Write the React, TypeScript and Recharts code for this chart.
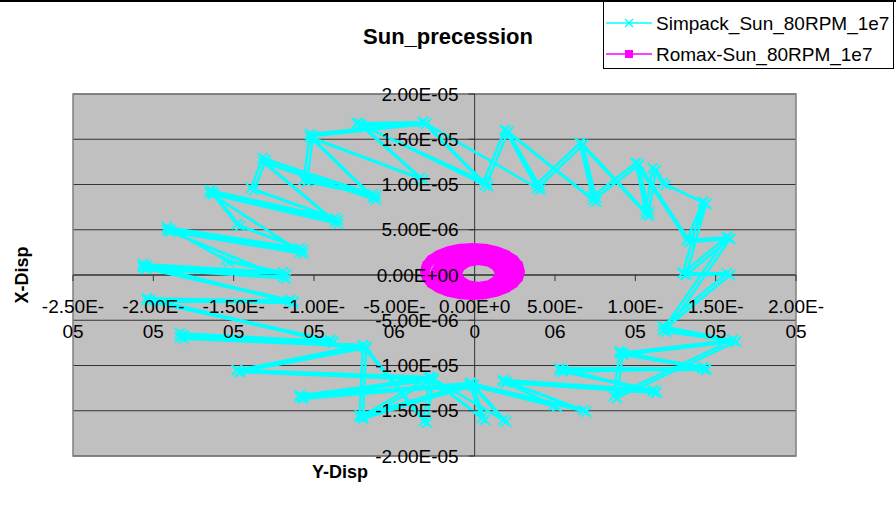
import React from "react";
import {
  ScatterChart,
  Scatter,
  XAxis,
  YAxis,
  CartesianGrid,
  ReferenceLine,
  ReferenceArea,
} from "recharts";

// ---------- axis definitions ----------
const X_MIN = -2.5e-5;
const X_MAX = 2.0e-5;
const Y_MIN = -2.0e-5;
const Y_MAX = 2.0e-5;
const X_TICKS = [-2.5e-5, -2.0e-5, -1.5e-5, -1.0e-5, -5.0e-6, 0, 5.0e-6, 1.0e-5, 1.5e-5, 2.0e-5];
const X_TICK_LABELS = [
  ["-2.50E-", "05"],
  ["-2.00E-", "05"],
  ["-1.50E-", "05"],
  ["-1.00E-", "05"],
  ["-5.00E-", "06"],
  ["0.00E+0", "0"],
  ["5.00E-", "06"],
  ["1.00E-", "05"],
  ["1.50E-", "05"],
  ["2.00E-", "05"],
];
const Y_TICKS = [-2.0e-5, -1.5e-5, -1.0e-5, -5.0e-6, 0, 5.0e-6, 1.0e-5, 1.5e-5, 2.0e-5];
const Y_TICK_LABELS = [
  "-2.00E-05",
  "-1.50E-05",
  "-1.00E-05",
  "-5.00E-06",
  "0.00E+00",
  "5.00E-06",
  "1.00E-05",
  "1.50E-05",
  "2.00E-05",
];

const TITLE = "Sun_precession";
const X_TITLE = "Y-Disp";
const Y_TITLE = "X-Disp";
const SIMPACK_NAME = "Simpack_Sun_80RPM_1e7";
const ROMAX_NAME = "Romax-Sun_80RPM_1e7";

// ---------- series ----------
const SIMPACK_PASS_A = [
  { x: -20.64e-6, y: 0.88e-6 },
  { x: -11.93e-6, y: -0.22e-6 },
  { x: -19.15e-6, y: 4.97e-6 },
  { x: -10.87e-6, y: 2.54e-6 },
  { x: -16.47e-6, y: 9.06e-6 },
  { x: -8.69e-6, y: 5.86e-6 },
  { x: -13.17e-6, y: 12.49e-6 },
  { x: -6.33e-6, y: 8.51e-6 },
  { x: -10.25e-6, y: 15.25e-6 },
  { x: -3.4e-6, y: 10.72e-6 },
  { x: -7.26e-6, y: 16.8e-6 },
  { x: 0.64e-6, y: 9.95e-6 },
  { x: -3.22e-6, y: 16.91e-6 },
  { x: 3.88e-6, y: 9.61e-6 },
  { x: 1.89e-6, y: 16.02e-6 },
  { x: 7.36e-6, y: 8.29e-6 },
  { x: 6.55e-6, y: 14.59e-6 },
  { x: 10.66e-6, y: 6.74e-6 },
  { x: 10.04e-6, y: 12.38e-6 },
  { x: 13.21e-6, y: 3.87e-6 },
  { x: 14.21e-6, y: 8.07e-6 },
  { x: 12.96e-6, y: 0.22e-6 },
  { x: 15.7e-6, y: 4.2e-6 },
  { x: 11.72e-6, y: -6.08e-6 },
  { x: 16.07e-6, y: -7.18e-6 },
  { x: 9.04e-6, y: -8.62e-6 },
  { x: 14.21e-6, y: -10.17e-6 },
  { x: 5.31e-6, y: -10.5e-6 },
  { x: 11.1e-6, y: -12.71e-6 },
  { x: 1.76e-6, y: -11.6e-6 },
  { x: 6.74e-6, y: -14.92e-6 },
  { x: -0.29e-6, y: -11.93e-6 },
  { x: 1.76e-6, y: -16.02e-6 },
  { x: -2.78e-6, y: -11.27e-6 },
  { x: -7.14e-6, y: -15.69e-6 },
  { x: -0.29e-6, y: -11.93e-6 },
  { x: -10.87e-6, y: -13.48e-6 },
  { x: -2.78e-6, y: -11.27e-6 },
  { x: -14.79e-6, y: -10.5e-6 },
  { x: -6.95e-6, y: -7.74e-6 },
  { x: -18.34e-6, y: -6.85e-6 },
  { x: -9.0e-6, y: -7.18e-6 },
  { x: -20.39e-6, y: -2.76e-6 },
  { x: -11.49e-6, y: -2.76e-6 },
  { x: -20.64e-6, y: 0.88e-6 },
];

const SIMPACK_PASS_B = [
  { x: -20.45e-6, y: 0.99e-6 },
  { x: -11.74e-6, y: 0.11e-6 },
  { x: -15.29e-6, y: 1.44e-6 },
  { x: -18.96e-6, y: 5.08e-6 },
  { x: -10.68e-6, y: 2.76e-6 },
  { x: -14.61e-6, y: 5.41e-6 },
  { x: -16.29e-6, y: 9.17e-6 },
  { x: -8.51e-6, y: 6.08e-6 },
  { x: -13.73e-6, y: 9.39e-6 },
  { x: -12.99e-6, y: 12.71e-6 },
  { x: -6.14e-6, y: 8.73e-6 },
  { x: -10.44e-6, y: 10.28e-6 },
  { x: -10.06e-6, y: 15.36e-6 },
  { x: -3.03e-6, y: 16.69e-6 },
  { x: -7.14e-6, y: 16.58e-6 },
  { x: 0.77e-6, y: 10.17e-6 },
  { x: 2.07e-6, y: 15.8e-6 },
  { x: 4.06e-6, y: 9.83e-6 },
  { x: 6.74e-6, y: 14.37e-6 },
  { x: 7.55e-6, y: 8.51e-6 },
  { x: 10.22e-6, y: 12.16e-6 },
  { x: 10.85e-6, y: 6.96e-6 },
  { x: 11.28e-6, y: 11.6e-6 },
  { x: 11.9e-6, y: 9.95e-6 },
  { x: 14.39e-6, y: 7.85e-6 },
  { x: 13.4e-6, y: 3.65e-6 },
  { x: 15.89e-6, y: 3.98e-6 },
  { x: 13.15e-6, y: 0.0 },
  { x: 15.89e-6, y: 0.0 },
  { x: 11.9e-6, y: -5.86e-6 },
  { x: 16.26e-6, y: -7.4e-6 },
  { x: 8.86e-6, y: -13.59e-6 },
  { x: 9.23e-6, y: -8.62e-6 },
  { x: 14.39e-6, y: -10.5e-6 },
  { x: 5.49e-6, y: -10.5e-6 },
  { x: 11.28e-6, y: -13.04e-6 },
  { x: 1.95e-6, y: -11.93e-6 },
  { x: 5.12e-6, y: -14.59e-6 },
  { x: -0.11e-6, y: -12.27e-6 },
  { x: 0.64e-6, y: -16.02e-6 },
  { x: -2.59e-6, y: -11.6e-6 },
  { x: -2.97e-6, y: -16.35e-6 },
  { x: -6.76e-6, y: -8.07e-6 },
  { x: -6.95e-6, y: -15.69e-6 },
  { x: -0.11e-6, y: -12.27e-6 },
  { x: -10.68e-6, y: -13.48e-6 },
  { x: -2.59e-6, y: -11.6e-6 },
  { x: -14.61e-6, y: -10.72e-6 },
  { x: -6.76e-6, y: -8.07e-6 },
  { x: -18.15e-6, y: -6.63e-6 },
  { x: -8.82e-6, y: -7.51e-6 },
  { x: -20.21e-6, y: -2.76e-6 },
  { x: -11.31e-6, y: -3.09e-6 },
  { x: -20.45e-6, y: 0.99e-6 },
];

const SIMPACK_PASS_C = [
  { x: -20.45e-6, y: 0.7e-6 },
  { x: -11.75e-6, y: -0.4e-6 },
  { x: -18.95e-6, y: 4.78e-6 },
  { x: -10.68e-6, y: 2.36e-6 },
  { x: -16.28e-6, y: 8.87e-6 },
  { x: -8.5e-6, y: 5.66e-6 },
  { x: -12.97e-6, y: 12.3e-6 },
  { x: -6.14e-6, y: 8.32e-6 },
  { x: -10.05e-6, y: 15.05e-6 },
  { x: -3.2e-6, y: 10.52e-6 },
  { x: -7.06e-6, y: 16.62e-6 },
  { x: 0.84e-6, y: 9.76e-6 },
  { x: -3.02e-6, y: 16.72e-6 },
  { x: 4.08e-6, y: 9.42e-6 },
  { x: 2.09e-6, y: 15.83e-6 },
  { x: 7.56e-6, y: 8.1e-6 },
  { x: 6.75e-6, y: 14.4e-6 },
  { x: 10.86e-6, y: 6.55e-6 },
  { x: 10.24e-6, y: 12.19e-6 },
  { x: 13.41e-6, y: 3.68e-6 },
  { x: 14.41e-6, y: 7.88e-6 },
  { x: 13.16e-6, y: 0.03e-6 },
  { x: 15.9e-6, y: 4.01e-6 },
  { x: 11.92e-6, y: -6.27e-6 },
  { x: 16.27e-6, y: -7.37e-6 },
  { x: 9.24e-6, y: -8.81e-6 },
  { x: 14.41e-6, y: -10.36e-6 },
  { x: 5.51e-6, y: -10.69e-6 },
  { x: 11.3e-6, y: -12.9e-6 },
  { x: 1.96e-6, y: -11.79e-6 },
  { x: 6.94e-6, y: -15.11e-6 },
  { x: -0.09e-6, y: -12.12e-6 },
  { x: 1.96e-6, y: -16.21e-6 },
  { x: -2.58e-6, y: -11.46e-6 },
  { x: -6.94e-6, y: -15.88e-6 },
  { x: -0.09e-6, y: -12.12e-6 },
  { x: -10.67e-6, y: -13.67e-6 },
  { x: -2.58e-6, y: -11.46e-6 },
  { x: -14.59e-6, y: -10.69e-6 },
  { x: -6.75e-6, y: -7.93e-6 },
  { x: -18.14e-6, y: -7.04e-6 },
  { x: -8.8e-6, y: -7.37e-6 },
  { x: -20.19e-6, y: -2.95e-6 },
  { x: -11.29e-6, y: -2.95e-6 },
  { x: -20.44e-6, y: 0.69e-6 },
];

const SIMPACK_PASS_D = [
  { x: -20.65e-6, y: 1.19e-6 },
  { x: -11.94e-6, y: 0.31e-6 },
  { x: -15.49e-6, y: 1.64e-6 },
  { x: -19.16e-6, y: 5.28e-6 },
  { x: -10.88e-6, y: 2.96e-6 },
  { x: -14.81e-6, y: 5.61e-6 },
  { x: -16.49e-6, y: 9.37e-6 },
  { x: -8.71e-6, y: 6.28e-6 },
  { x: -13.93e-6, y: 9.59e-6 },
  { x: -13.19e-6, y: 12.91e-6 },
  { x: -6.34e-6, y: 8.93e-6 },
  { x: -10.64e-6, y: 10.48e-6 },
  { x: -10.26e-6, y: 15.56e-6 },
  { x: -3.23e-6, y: 16.89e-6 },
  { x: -7.34e-6, y: 16.78e-6 },
  { x: 0.57e-6, y: 10.37e-6 },
  { x: 1.87e-6, y: 16.0e-6 },
  { x: 3.86e-6, y: 10.03e-6 },
  { x: 6.54e-6, y: 14.57e-6 },
  { x: 7.35e-6, y: 8.71e-6 },
  { x: 10.02e-6, y: 12.36e-6 },
  { x: 10.65e-6, y: 7.16e-6 },
  { x: 11.08e-6, y: 11.8e-6 },
  { x: 11.7e-6, y: 10.15e-6 },
  { x: 14.19e-6, y: 8.05e-6 },
  { x: 13.2e-6, y: 3.85e-6 },
  { x: 15.69e-6, y: 4.18e-6 },
  { x: 12.95e-6, y: 0.2e-6 },
  { x: 15.69e-6, y: 0.2e-6 },
  { x: 11.7e-6, y: -5.66e-6 },
  { x: 16.06e-6, y: -7.2e-6 },
  { x: 8.66e-6, y: -13.39e-6 },
  { x: 9.03e-6, y: -8.42e-6 },
  { x: 14.19e-6, y: -10.3e-6 },
  { x: 5.29e-6, y: -10.3e-6 },
  { x: 11.08e-6, y: -12.84e-6 },
  { x: 1.75e-6, y: -11.73e-6 },
  { x: 4.92e-6, y: -14.39e-6 },
  { x: -0.31e-6, y: -12.07e-6 },
  { x: 0.44e-6, y: -15.82e-6 },
  { x: -2.79e-6, y: -11.4e-6 },
  { x: -3.17e-6, y: -16.15e-6 },
  { x: -6.96e-6, y: -7.87e-6 },
  { x: -7.15e-6, y: -15.49e-6 },
  { x: -0.31e-6, y: -12.07e-6 },
  { x: -10.88e-6, y: -13.28e-6 },
  { x: -2.79e-6, y: -11.4e-6 },
  { x: -14.81e-6, y: -10.52e-6 },
  { x: -6.96e-6, y: -7.87e-6 },
  { x: -18.35e-6, y: -6.43e-6 },
  { x: -9.02e-6, y: -7.31e-6 },
  { x: -20.41e-6, y: -2.56e-6 },
  { x: -11.51e-6, y: -2.89e-6 },
  { x: -20.65e-6, y: 1.19e-6 },
];

const ROMAX = [
  // outer loop
  { x: 2.82e-6, y: 0.39e-6 },
  { x: 2.72e-6, y: 1.06e-6 },
  { x: 2.42e-6, y: 1.69e-6 },
  { x: 1.95e-6, y: 2.22e-6 },
  { x: 1.34e-6, y: 2.64e-6 },
  { x: 0.63e-6, y: 2.9e-6 },
  { x: -0.14e-6, y: 2.98e-6 },
  { x: -0.9e-6, y: 2.9e-6 },
  { x: -1.62e-6, y: 2.64e-6 },
  { x: -2.23e-6, y: 2.22e-6 },
  { x: -2.7e-6, y: 1.69e-6 },
  { x: -2.99e-6, y: 1.06e-6 },
  { x: -3.09e-6, y: 0.39e-6 },
  { x: -2.99e-6, y: -0.29e-6 },
  { x: -2.7e-6, y: -0.91e-6 },
  { x: -2.23e-6, y: -1.45e-6 },
  { x: -1.62e-6, y: -1.86e-6 },
  { x: -0.9e-6, y: -2.12e-6 },
  { x: -0.14e-6, y: -2.21e-6 },
  { x: 0.63e-6, y: -2.12e-6 },
  { x: 1.34e-6, y: -1.86e-6 },
  { x: 1.95e-6, y: -1.45e-6 },
  { x: 2.42e-6, y: -0.91e-6 },
  { x: 2.72e-6, y: -0.29e-6 },
  { x: 2.82e-6, y: 0.39e-6 },
  // second loop
  { x: 2.4e-6, y: 0.31e-6 },
  { x: 2.08e-6, y: 1.43e-6 },
  { x: 1.2e-6, y: 2.24e-6 },
  { x: -0.01e-6, y: 2.54e-6 },
  { x: -1.22e-6, y: 2.24e-6 },
  { x: -2.1e-6, y: 1.43e-6 },
  { x: -2.43e-6, y: 0.31e-6 },
  { x: -2.1e-6, y: -0.81e-6 },
  { x: -1.22e-6, y: -1.62e-6 },
  { x: -0.01e-6, y: -1.92e-6 },
  { x: 1.2e-6, y: -1.62e-6 },
  { x: 2.08e-6, y: -0.81e-6 },
  { x: 2.4e-6, y: 0.31e-6 },
  // third loop
  { x: 1.99e-6, y: 0.24e-6 },
  { x: 1.74e-6, y: 1.17e-6 },
  { x: 1.05e-6, y: 1.85e-6 },
  { x: 0.11e-6, y: 2.1e-6 },
  { x: -0.83e-6, y: 1.85e-6 },
  { x: -1.52e-6, y: 1.17e-6 },
  { x: -1.77e-6, y: 0.24e-6 },
  { x: -1.52e-6, y: -0.69e-6 },
  { x: -0.83e-6, y: -1.36e-6 },
  { x: 0.11e-6, y: -1.61e-6 },
  { x: 1.05e-6, y: -1.36e-6 },
  { x: 1.74e-6, y: -0.69e-6 },
  { x: 1.99e-6, y: 0.24e-6 },
  // inner loop
  { x: 1.57e-6, y: 0.17e-6 },
  { x: 1.4e-6, y: 0.91e-6 },
  { x: 0.91e-6, y: 1.46e-6 },
  { x: 0.24e-6, y: 1.66e-6 },
  { x: -0.43e-6, y: 1.46e-6 },
  { x: -0.92e-6, y: 0.91e-6 },
  { x: -1.1e-6, y: 0.17e-6 },
  { x: -0.92e-6, y: -0.58e-6 },
  { x: -0.43e-6, y: -1.13e-6 },
  { x: 0.24e-6, y: -1.33e-6 },
  { x: 0.91e-6, y: -1.13e-6 },
  { x: 1.4e-6, y: -0.58e-6 },
  { x: 1.57e-6, y: 0.17e-6 },
];

const SIMPACK = [...SIMPACK_PASS_A, ...SIMPACK_PASS_B, ...SIMPACK_PASS_C, ...SIMPACK_PASS_D];

// ---------- layout ----------
const W = 896;
const H = 514;
const PLOT_LEFT = 73;
const PLOT_TOP = 94;
const PLOT_RIGHT = 796;
const PLOT_BOTTOM = 456;
const AX_X_H = 30;
const AX_Y_W = 30;
const PLOT_W = PLOT_RIGHT - PLOT_LEFT;
const PLOT_H = PLOT_BOTTOM - PLOT_TOP;
const ZERO_X = PLOT_LEFT + (PLOT_W * (0 - X_MIN)) / (X_MAX - X_MIN);
const ZERO_Y = PLOT_TOP + (PLOT_H * (Y_MAX - 0)) / (Y_MAX - Y_MIN);

const FONT = '"Liberation Sans", Arial, sans-serif';
const CYAN = "#00FFFF";
const MAGENTA = "#FF00FF";
const AXIS = "#333333";

const renderXTick = (props: any) => {
  const { x, index } = props;
  const lab = X_TICK_LABELS[index] || ["", ""];
  return (
    <g key={`xt-${index}`}>
      <line x1={x} x2={x} y1={ZERO_Y} y2={ZERO_Y + 6} stroke={AXIS} strokeWidth={1} />
      <text x={x} y={ZERO_Y + 31} textAnchor="middle" dominantBaseline="central" fontSize={19} fontFamily={FONT} fill="#000">
        {lab[0]}
      </text>
      <text x={x} y={ZERO_Y + 56} textAnchor="middle" dominantBaseline="central" fontSize={19} fontFamily={FONT} fill="#000">
        {lab[1]}
      </text>
    </g>
  );
};

const renderYTick = (props: any) => {
  const { y, index } = props;
  return (
    <g key={`yt-${index}`}>
      <line x1={ZERO_X - 6} x2={ZERO_X} y1={y} y2={y} stroke={AXIS} strokeWidth={1} />
      <text x={ZERO_X - 16} y={y} textAnchor="end" dominantBaseline="central" fontSize={19} fontFamily={FONT} fill="#000">
        {Y_TICK_LABELS[index]}
      </text>
    </g>
  );
};

const XMark = (props: any) => {
  const { cx, cy } = props;
  if (cx == null || cy == null) return null;
  const s = 5;
  return (
    <g stroke={CYAN} strokeWidth={1.8}>
      <line x1={cx - s} y1={cy - s} x2={cx + s} y2={cy + s} />
      <line x1={cx - s} y1={cy + s} x2={cx + s} y2={cy - s} />
    </g>
  );
};

const SquareMark = (props: any) => {
  const { cx, cy } = props;
  if (cx == null || cy == null) return null;
  return <rect x={cx - 4} y={cy - 4} width={8} height={8} fill={MAGENTA} />;
};

const textStyle: React.CSSProperties = {
  position: "absolute",
  fontFamily: FONT,
  color: "#000",
  whiteSpace: "nowrap",
  lineHeight: 1,
};

export default function App() {
  return (
    <div style={{ position: "absolute", left: 0, top: 0, width: W, height: H, background: "#fff", overflow: "hidden" }}>
      <ScatterChart
        width={W}
        height={H}
        margin={{
          top: PLOT_TOP,
          left: PLOT_LEFT - AX_Y_W,
          right: W - PLOT_RIGHT,
          bottom: H - PLOT_BOTTOM - AX_X_H,
        }}
      >
        <CartesianGrid
          vertical={false}
          horizontal={true}
          stroke={AXIS}
          strokeWidth={1}
          fill="#C0C0C0"
          fillOpacity={1}
        />
        <ReferenceArea x1={X_MIN} x2={X_MAX} y1={Y_MIN} y2={Y_MAX} fill="none" stroke="#808080" strokeWidth={1.5} />
        <ReferenceLine x={0} stroke={AXIS} strokeWidth={1} />
        <ReferenceLine y={0} stroke={AXIS} strokeWidth={1} />
        <Scatter
          name={SIMPACK_NAME}
          data={SIMPACK}
          line={{ stroke: CYAN, strokeWidth: 2.5, strokeLinejoin: "round" }}
          lineType="joint"
          shape={XMark}
          isAnimationActive={false}
        />
        <Scatter
          name={ROMAX_NAME}
          data={ROMAX}
          line={{ stroke: MAGENTA, strokeWidth: 10, strokeLinejoin: "round" }}
          lineType="joint"
          shape={SquareMark}
          isAnimationActive={false}
        />
        <XAxis
          type="number"
          dataKey="x"
          domain={[X_MIN, X_MAX]}
          ticks={X_TICKS}
          interval={0}
          height={AX_X_H}
          axisLine={false}
          tickLine={false}
          tick={renderXTick}
          allowDataOverflow
        />
        <YAxis
          type="number"
          dataKey="y"
          domain={[Y_MIN, Y_MAX]}
          ticks={Y_TICKS}
          interval={0}
          width={AX_Y_W}
          axisLine={false}
          tickLine={false}
          tick={renderYTick}
          allowDataOverflow
        />
      </ScatterChart>

      {/* top chart-area border */}
      <div style={{ position: "absolute", left: 0, top: 0, width: W, height: 2, background: "#000" }} />

      {/* title */}
      <div style={{ ...textStyle, left: 0, width: W, top: 26, textAlign: "center", fontWeight: "bold", fontSize: 22 }}>
        {TITLE}
      </div>
      {/* x-axis title */}
      <div style={{ ...textStyle, left: 290, width: 100, top: 463, textAlign: "center", fontWeight: "bold", fontSize: 18 }}>
        {X_TITLE}
      </div>
      {/* y-axis title */}
      <div
        style={{
          ...textStyle,
          left: 22 - 50,
          top: 275 - 9,
          width: 100,
          textAlign: "center",
          fontWeight: "bold",
          fontSize: 18,
          transform: "rotate(-90deg)",
        }}
      >
        {Y_TITLE}
      </div>

      {/* legend */}
      <div
        style={{
          position: "absolute",
          left: 603,
          top: 1,
          width: 291,
          height: 68,
          border: "1px solid #000",
          background: "#fff",
          boxSizing: "border-box",
        }}
      >
        {[
          { name: SIMPACK_NAME, color: CYAN, kind: "x" },
          { name: ROMAX_NAME, color: MAGENTA, kind: "sq" },
        ].map((it, i) => (
          <div key={i} style={{ position: "absolute", left: 0, top: i === 0 ? 9 : 40, height: 24, width: 290 }}>
            <svg width={50} height={24} style={{ position: "absolute", left: 2, top: 0 }}>
              <line x1={0} x2={46} y1={12} y2={12} stroke={it.color} strokeWidth={1.5} />
              {it.kind === "x" ? (
                <g stroke={it.color} strokeWidth={1.5}>
                  <line x1={19} y1={8} x2={27} y2={16} />
                  <line x1={19} y1={16} x2={27} y2={8} />
                </g>
              ) : (
                <rect x={19} y={8} width={8} height={8} fill={it.color} />
              )}
            </svg>
            <div style={{ ...textStyle, left: 52, top: 3, fontSize: 19 }}>{it.name}</div>
          </div>
        ))}
      </div>
    </div>
  );
}
